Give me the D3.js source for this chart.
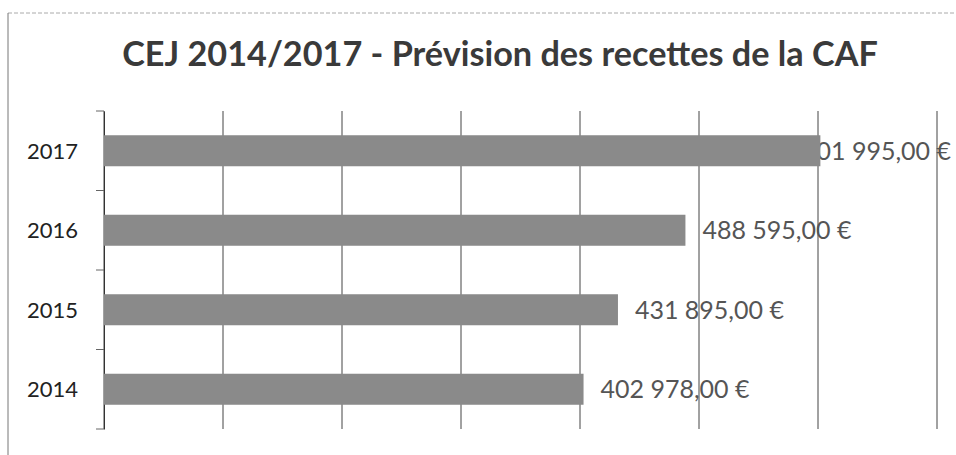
<!DOCTYPE html>
<html>
<head>
<meta charset="utf-8">
<script src="https://cdnjs.cloudflare.com/ajax/libs/d3/7.8.5/d3.min.js"></script>
<style>
  body { margin: 0; background: #fff; }
  text { font-family: Lato, "Open Sans", sans-serif; }
</style>
</head>
<body>
<script>
var width = 956,
    height = 455;

// data
var years = ["2014", "2015", "2016", "2017"];
var recettes = [402978, 431895, 488595, 601995];
var xTicks = [0, 100000, 200000, 300000, 400000, 500000, 600000, 700000];
var title = "CEJ 2014/2017 - Prévision des recettes de la CAF";
// end data

var plot = { left: 104, right: 937, top: 111, bottom: 429 };

var fr = d3.formatLocale({ decimal: ",", thousands: "\u00a0", grouping: [3], currency: ["", " €"] });
var fmt = fr.format("$,.2f");

var xRange = d3.scaleLinear().domain([0, 700000]).range([plot.left, plot.right]);
var yRange = d3.scaleBand().domain(years.slice().reverse())
    .range([plot.top, plot.bottom])
    .paddingInner(0.61)
    .paddingOuter(0.305);

var svg = d3.select("body").append("svg")
    .attr("width", width)
    .attr("height", height);

// chart frame (scan edges)
svg.append("line")
    .attr("x1", 8).attr("x2", width).attr("y1", 13).attr("y2", 13)
    .attr("stroke", "#aaa").attr("stroke-dasharray", "4,2");
svg.append("line")
    .attr("x1", 8).attr("x2", 8).attr("y1", 13).attr("y2", height)
    .attr("stroke", "#777");

// title, sized to span the same width as the original
var titleText = svg.append("text")
    .attr("x", 500)
    .attr("y", 66)
    .attr("text-anchor", "middle")
    .attr("font-weight", "bold")
    .attr("font-size", 30)
    .attr("fill", "#3a3a3a")
    .text(title);
var tw = titleText.node().getComputedTextLength();
titleText.attr("font-size", 30 * 756 / tw);

// gridlines
svg.append("g").selectAll("line")
    .data(xTicks)
    .join("line")
    .attr("x1", function(d) { return xRange(d); })
    .attr("x2", function(d) { return xRange(d); })
    .attr("y1", plot.top)
    .attr("y2", plot.bottom)
    .attr("stroke", "#444")
    .attr("stroke-width", 1);

// y axis
var yAxis = d3.axisLeft(yRange).tickSize(0).tickFormat("");
var gy = svg.append("g")
    .attr("transform", "translate(" + plot.left + ",0)")
    .call(yAxis);
gy.select(".domain").attr("stroke", "#333");
// band boundary ticks
var bounds = yRange.domain().map(function(d) { return yRange(d) - yRange.step() * yRange.paddingInner() / 2; });
bounds.push(plot.bottom);
bounds[0] = plot.top;
gy.selectAll(".bound")
    .data(bounds)
    .join("line")
    .attr("class", "bound")
    .attr("x1", -8).attr("x2", 0)
    .attr("y1", function(d) { return d; })
    .attr("y2", function(d) { return d; })
    .attr("stroke", "#666");

// category labels
svg.append("g").selectAll("text")
    .data(years)
    .join("text")
    .attr("x", 78)
    .attr("y", function(d) { return yRange(d) + yRange.bandwidth() / 2 + 8; })
    .attr("text-anchor", "end")
    .attr("font-size", 22)
    .attr("fill", "#222")
    .text(function(d) { return d; });

// value labels (pushed back inside when they would leave the chart)
var labels = svg.append("g").selectAll("text")
    .data(recettes)
    .join("text")
    .attr("y", function(d, i) { return yRange(years[i]) + yRange.bandwidth() / 2 + 9; })
    .attr("font-size", 25)
    .attr("fill", "#555")
    .text(function(d) { return fmt(d); });
labels.each(function(d) {
    var w = this.getComputedTextLength();
    var x0 = xRange(d) + 17;
    if (x0 + w > width - 5) x0 = width - 5 - w;
    d3.select(this).attr("x", x0);
});

// bars
svg.append("g").selectAll("rect")
    .data(recettes)
    .join("rect")
    .attr("x", xRange(0))
    .attr("y", function(d, i) { return yRange(years[i]); })
    .attr("width", function(d) { return xRange(d) - xRange(0); })
    .attr("height", yRange.bandwidth())
    .attr("fill", "#8a8a8a");
</script>
</body>
</html>
